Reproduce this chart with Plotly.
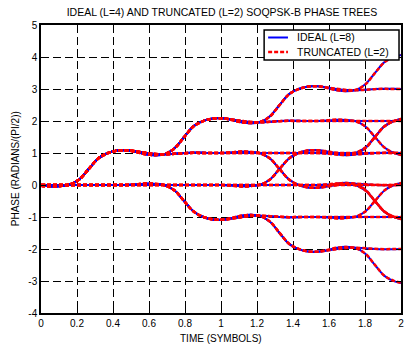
import plotly.graph_objects as go

# ---- data ----
# transition centres (symbols) and sample spacing of the pulse shape
TRANSITION_TIMES = [0.265, 0.795, 1.325, 1.855]
SAMPLE_STEP = 0.053
# phase response (units of pi/2) sampled at offsets -6..13 samples from a transition centre
PULSE_OFFSETS = list(range(-6, 14))
PULSE_IDEAL = [0.0, -0.015, -0.04, -0.035, 0.01, 0.17, 0.5, 0.83, 1.0, 1.08,
               1.085, 1.05, 1.0, 0.965, 0.96, 0.98, 1.0, 1.01, 1.005, 1.0]
PULSE_TRUNC = [0.0, -0.02, -0.045, -0.03, 0.015, 0.17, 0.5, 0.83, 0.995, 1.075,
               1.085, 1.05, 1.005, 0.97, 0.96, 0.975, 0.995, 1.005, 1.0, 1.0]
# ternary symbol sequences of the 16 branches of the tree
SYMBOLS = [
    (1, 1, 1, 1), (1, 1, 1, 0),
    (1, 1, 0, -1), (1, 1, 0, 0),
    (1, 0, 0, 1), (1, 0, 0, 0),
    (1, 0, -1, -1), (1, 0, -1, 0),
    (0, 0, 0, -1), (0, 0, 0, 0),
    (0, 0, 1, 1), (0, 0, 1, 0),
    (0, -1, 0, 1), (0, -1, 0, 0),
    (0, -1, -1, -1), (0, -1, -1, 0),
]
SERIES_NAMES = ["IDEAL (L=8)", "TRUNCATED (L=2)"]
X_TICKS = [0, 0.2, 0.4, 0.6, 0.8, 1, 1.2, 1.4, 1.6, 1.8, 2]
Y_TICKS = [-4, -3, -2, -1, 0, 1, 2, 3, 4, 5]

N_SAMPLES = 39
times = [m * SAMPLE_STEP for m in range(N_SAMPLES)]
centre_idx = [round(t / SAMPLE_STEP) for t in TRANSITION_TIMES]


def pulse_at(pulse, j):
    if j < PULSE_OFFSETS[0]:
        return 0.0
    if j > PULSE_OFFSETS[-1]:
        return pulse[-1]
    return pulse[j - PULSE_OFFSETS[0]]


def path(symbols, pulse):
    return [sum(a * pulse_at(pulse, m - c) for a, c in zip(symbols, centre_idx))
            for m in range(N_SAMPLES)]


BLUE_LINE = dict(color="#0000ff", width=2)
RED_LINE = dict(color="#ff0000", width=2.5, dash="4px,2px")

fig = go.Figure()
for s in SYMBOLS:
    fig.add_trace(go.Scatter(
        x=times, y=path(s, PULSE_IDEAL), mode="lines",
        line=dict(**BLUE_LINE, shape="spline", smoothing=1),
        name=SERIES_NAMES[0], showlegend=False))
for s in SYMBOLS:
    fig.add_trace(go.Scatter(
        x=times, y=path(s, PULSE_TRUNC), mode="lines",
        line=dict(**RED_LINE, shape="spline", smoothing=1),
        name=SERIES_NAMES[1], showlegend=False))

FONT = "Liberation Sans, Arial, sans-serif"
axis_common = dict(
    showgrid=True, gridcolor="#000000", gridwidth=1, griddash="8px,4px",
    showline=True, linecolor="#000000", linewidth=1.5, mirror="ticks",
    ticks="inside", ticklen=5, tickcolor="#000000", zeroline=False,
    ticklabeloverflow="allow",
    tickfont=dict(family=FONT, size=10, color="#000000"),
)
fig.update_xaxes(range=[0, 2], tickvals=X_TICKS, ticktext=[f"{v:g}" for v in X_TICKS], **axis_common)
fig.update_yaxes(range=[-4, 5], tickvals=Y_TICKS, ticktext=[f"{v:d}" for v in Y_TICKS], **axis_common)

# ---- legend drawn as a boxed key (paper coordinates) ----
LEG_X0, LEG_X1, LEG_Y0, LEG_Y1 = 0.6198, 0.9945, 0.8785, 0.9826
ROW_Y = [0.9566, 0.9063]
SAMPLE_X0, SAMPLE_X1, TEXT_X = 0.6309, 0.6860, 0.705
shapes = [dict(type="rect", xref="paper", yref="paper", x0=LEG_X0, x1=LEG_X1,
               y0=LEG_Y0, y1=LEG_Y1, fillcolor="white",
               line=dict(color="#000000", width=1.5), layer="above")]
annotations = []
for name, ln, ry in zip(SERIES_NAMES, [BLUE_LINE, RED_LINE], ROW_Y):
    shapes.append(dict(type="line", xref="paper", yref="paper", x0=SAMPLE_X0, x1=SAMPLE_X1,
                       y0=ry, y1=ry, line=ln, layer="above"))
    annotations.append(dict(text=name, x=TEXT_X, y=ry, xref="paper", yref="paper",
                            xanchor="left", yanchor="middle", showarrow=False,
                            font=dict(family=FONT, size=10.5, color="#000000")))

annotations += [
    dict(text="TIME (SYMBOLS)", x=0.5, y=-0.087, xref="paper", yref="paper",
         xanchor="center", yanchor="middle", showarrow=False,
         font=dict(family=FONT, size=10, color="#000000")),
    dict(text="PHASE (RADIANS/(PI/2))", x=-0.0716, y=0.5, xref="paper", yref="paper",
         xanchor="center", yanchor="middle", textangle=-90, showarrow=False,
         font=dict(family=FONT, size=10, color="#000000")),
]

fig.update_layout(
    width=404, height=347,
    margin=dict(l=41, r=0, t=25, b=34),
    plot_bgcolor="white", paper_bgcolor="white",
    font=dict(family=FONT, size=10, color="#000000"),
    showlegend=False,
    title=dict(text="IDEAL (L=4) AND TRUNCATED (L=2) SOQPSK-B PHASE TREES",
               x=222 / 404, xref="container", xanchor="center",
               y=1 - 12.5 / 347, yref="container", yanchor="middle",
               font=dict(family=FONT, size=10.5, color="#000000")),
    shapes=shapes,
    annotations=annotations,
)

fig.write_html("out.html")
